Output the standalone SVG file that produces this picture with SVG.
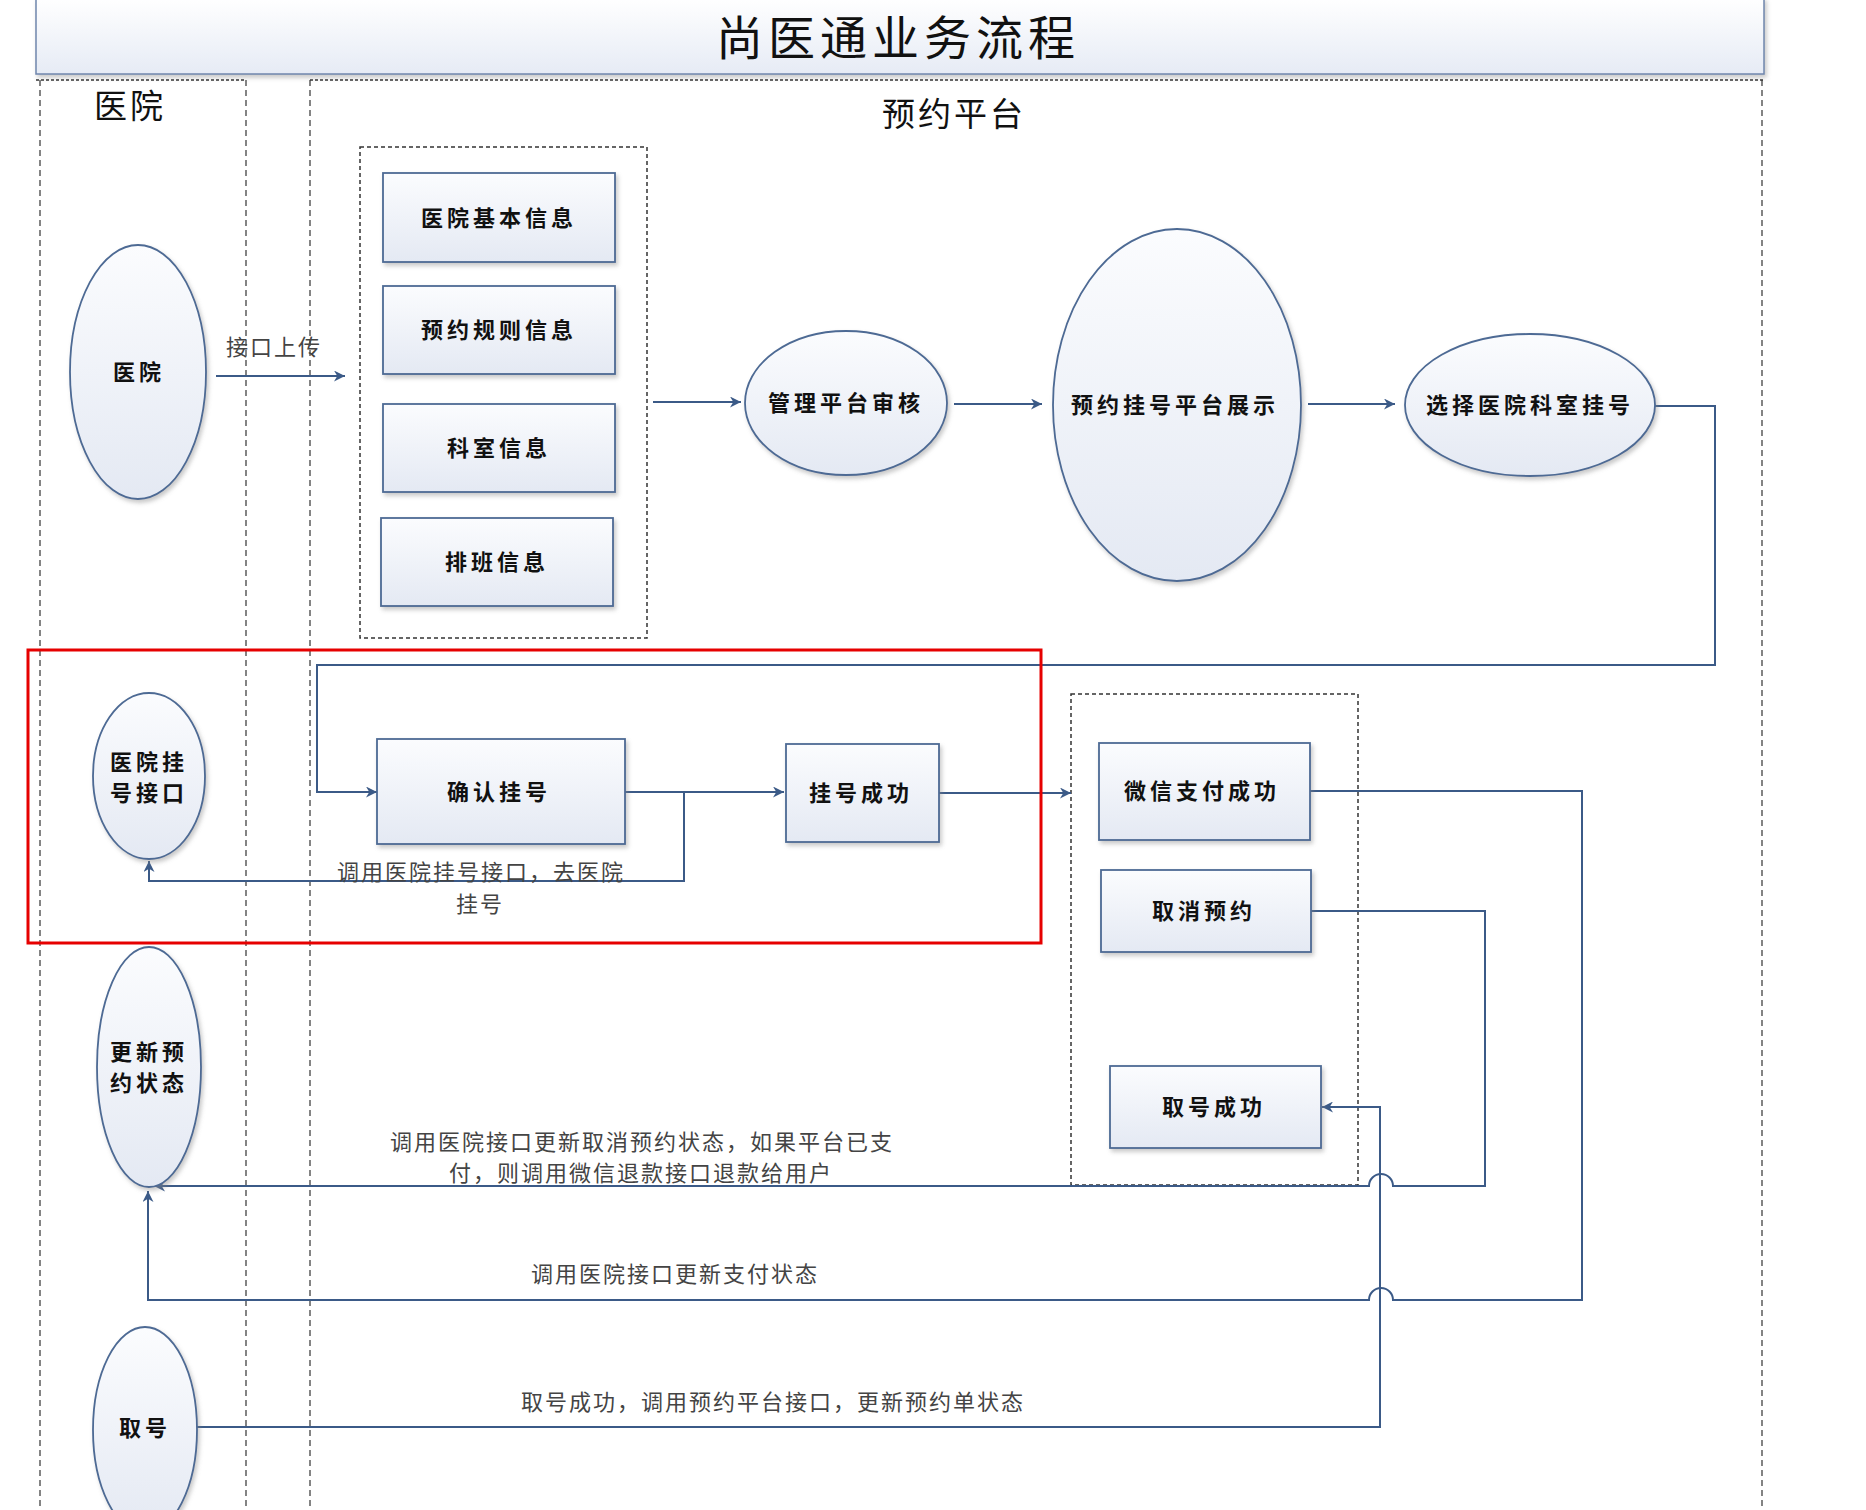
<svg xmlns="http://www.w3.org/2000/svg" width="1866" height="1510" viewBox="0 0 1866 1510">
<style>
.node{fill:url(#g);stroke:#4D6A94;stroke-width:1.8;filter:url(#sh)}
.nt{font-family:"Noto Sans CJK SC","Noto Sans",sans-serif;font-size:22px;font-weight:bold;fill:#111;letter-spacing:4px;text-anchor:middle}
.lb{font-family:"Noto Sans CJK SC","Noto Sans",sans-serif;font-size:22px;fill:#444;letter-spacing:2px;text-anchor:middle}
.ln{fill:none;stroke:#3B5A87;stroke-width:2}
.ar{marker-end:url(#ah)}
.lane{fill:none;stroke:#333;stroke-width:1.2;stroke-dasharray:6 4}
.dot{fill:none;stroke:#333;stroke-width:1.5;stroke-dasharray:3 2}
.grp{fill:none;stroke:#333;stroke-width:1.5;stroke-dasharray:4 3}
</style>
<defs>
<linearGradient id="g" x1="0" y1="0" x2="0" y2="1"><stop offset="0" stop-color="#FBFCFE"/><stop offset="1" stop-color="#E4E9F3"/></linearGradient>
<linearGradient id="tg" x1="0" y1="0" x2="0" y2="1"><stop offset="0" stop-color="#FFFFFF"/><stop offset="1" stop-color="#E6EBF5"/></linearGradient>
<filter id="sh" x="-10%" y="-10%" width="130%" height="130%"><feDropShadow dx="2" dy="3" stdDeviation="2" flood-color="#888" flood-opacity="0.45"/></filter>
<marker id="ah" viewBox="0 0 10 10" refX="10" refY="5" markerWidth="13" markerHeight="11" markerUnits="userSpaceOnUse" orient="auto"><path d="M0,0 L10,5 L0,10 L3,5 Z" fill="#3B5A87"/></marker>
</defs>
<rect width="1866" height="1510" fill="#fff"/>
<g id="title">
<rect x="36" y="-2" width="1728" height="76" fill="url(#tg)" stroke="#6F86AD" stroke-width="1.5" filter="url(#sh)"/>
<text x="898" y="55" font-family="'Noto Sans CJK SC',sans-serif" font-size="47" fill="#111" text-anchor="middle" letter-spacing="5">尚医通业务流程</text>
</g>
<g id="lanes">
<line class="dot" x1="36" y1="80" x2="246" y2="80"/>
<line class="dot" x1="310" y1="80" x2="1764" y2="80"/>
<line class="lane" x1="40" y1="80" x2="40" y2="1510"/>
<line class="lane" x1="246" y1="80" x2="246" y2="1510"/>
<line class="lane" x1="310" y1="80" x2="310" y2="1510"/>
<line class="lane" x1="1762" y1="80" x2="1762" y2="1510"/>
<text x="130" y="118" font-family="'Noto Sans CJK SC',sans-serif" font-size="33" fill="#111" text-anchor="middle" letter-spacing="3">医院</text>
<text x="954" y="126" font-family="'Noto Sans CJK SC',sans-serif" font-size="33" fill="#111" text-anchor="middle" letter-spacing="3">预约平台</text>
</g>
<g id="groups">
<rect class="grp" x="360" y="147" width="287" height="491"/>
<rect class="grp" x="1071" y="694" width="287" height="491"/>
</g>
<g id="connectors">
<path class="ln ar" d="M216,376 H345"/>
<path class="ln ar" d="M653,402 H741"/>
<path class="ln ar" d="M954,404 H1042"/>
<path class="ln ar" d="M1308,404 H1395"/>
<path class="ln ar" d="M1654,406 H1715 V665 H317 V792 H377"/>
<path class="ln ar" d="M625,792 H784"/>
<path class="ln ar" d="M684,792 V881 H149 V861"/>
<path class="ln ar" d="M939,793 H1071"/>
<path class="ln ar" d="M1310,791 H1582 V1300 H1393 A12,12 0 0 0 1369,1300 H148 V1191"/>
<path class="ln ar" d="M1311,911 H1485 V1186 H1393 A12,12 0 0 0 1369,1186 H154"/>
<path class="ln ar" d="M197,1427 H1380 V1107 H1322"/>
<text class="lb" x="274" y="355">接口上传</text>
<text class="lb" x="481" y="880">调用医院挂号接口，去医院</text>
<text class="lb" x="480" y="912">挂号</text>
<text class="lb" x="642" y="1150">调用医院接口更新取消预约状态，如果平台已支</text>
<text class="lb" x="641" y="1181">付，则调用微信退款接口退款给用户</text>
<text class="lb" x="675" y="1282">调用医院接口更新支付状态</text>
<text class="lb" x="773" y="1410">取号成功，调用预约平台接口，更新预约单状态</text>
</g>
<g id="n-hospital"><ellipse class="node" cx="138" cy="372" rx="68" ry="127"/><text class="nt" x="139" y="380">医院</text></g>
<g id="n-info1"><rect class="node" x="383" y="173" width="232" height="89"/><text class="nt" x="499" y="226">医院基本信息</text></g>
<g id="n-info2"><rect class="node" x="383" y="286" width="232" height="88"/><text class="nt" x="499" y="338">预约规则信息</text></g>
<g id="n-info3"><rect class="node" x="383" y="404" width="232" height="88"/><text class="nt" x="499" y="456">科室信息</text></g>
<g id="n-info4"><rect class="node" x="381" y="518" width="232" height="88"/><text class="nt" x="497" y="570">排班信息</text></g>
<g id="n-audit"><ellipse class="node" cx="846" cy="403" rx="101" ry="72"/><text class="nt" x="846" y="411">管理平台审核</text></g>
<g id="n-show"><ellipse class="node" cx="1177" cy="405" rx="124" ry="176"/><text class="nt" x="1175" y="413">预约挂号平台展示</text></g>
<g id="n-select"><ellipse class="node" cx="1530" cy="405" rx="125" ry="71"/><text class="nt" x="1530" y="413">选择医院科室挂号</text></g>
<g id="n-hosapi"><ellipse class="node" cx="149" cy="776" rx="56" ry="83"/><text class="nt" x="149" y="770">医院挂</text><text class="nt" x="149" y="801">号接口</text></g>
<g id="n-confirm"><rect class="node" x="377" y="739" width="248" height="105"/><text class="nt" x="499" y="800">确认挂号</text></g>
<g id="n-regok"><rect class="node" x="786" y="744" width="153" height="98"/><text class="nt" x="861" y="801">挂号成功</text></g>
<g id="n-pay"><rect class="node" x="1099" y="743" width="211" height="97"/><text class="nt" x="1202" y="799">微信支付成功</text></g>
<g id="n-cancel"><rect class="node" x="1101" y="870" width="210" height="82"/><text class="nt" x="1204" y="919">取消预约</text></g>
<g id="n-takeok"><rect class="node" x="1110" y="1066" width="211" height="82"/><text class="nt" x="1214" y="1115">取号成功</text></g>
<g id="n-update"><ellipse class="node" cx="149" cy="1067" rx="52" ry="120"/><text class="nt" x="149" y="1060">更新预</text><text class="nt" x="149" y="1091">约状态</text></g>
<g id="n-take"><ellipse class="node" cx="145" cy="1430" rx="52" ry="103"/><text class="nt" x="145" y="1436">取号</text></g>
<g id="highlight"><rect x="28" y="650" width="1013" height="293" fill="none" stroke="#E60000" stroke-width="3"/></g>
</svg>
